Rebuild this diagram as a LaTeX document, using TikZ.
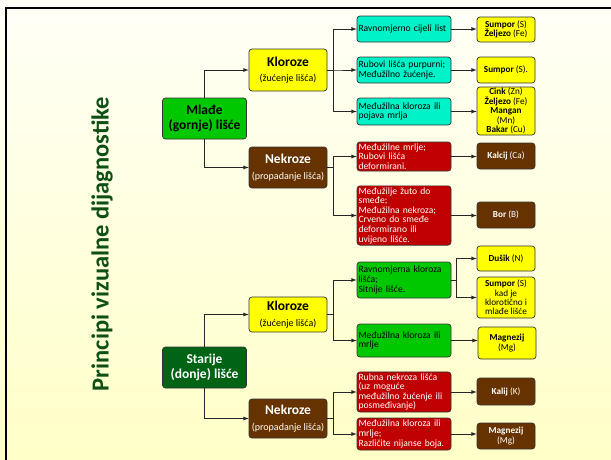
\documentclass[tikz,border=0pt]{standalone}
\usepackage{fontspec}
\setmainfont{Carlito}
\usepackage{tikz}
\usetikzlibrary{arrows}

\definecolor{ylwfill}{HTML}{FFFF00}
\definecolor{cynfill}{HTML}{00F2C8}
\definecolor{redfill}{HTML}{C00000}
\definecolor{brnfill}{HTML}{663300}
\definecolor{grnfill}{HTML}{00C800}
\definecolor{drkgrn}{HTML}{006414}
\definecolor{titlegrn}{HTML}{0E5014}

\tikzset{
  box/.style={draw=black!80, line width=0.7pt, rounded corners=3pt, inner sep=1.5pt, font=\fontsize{9.6}{9.6}\selectfont},
  leftbox/.style={box, align=left, text width=#1},
  ylw/.style={box, fill=ylwfill, align=center, font=\fontsize{9.2}{9.4}\selectfont},
  brn/.style={box, fill=brnfill, text=white, align=center, font=\fontsize{9.2}{9.6}\selectfont},
  cyn/.style={leftbox=91pt, fill=cynfill},
  redb/.style={leftbox=91pt, fill=redfill, text=white},
  grnb/.style={leftbox=91pt, fill=grnfill},
  head/.style={box, align=center, font=\fontsize{13.5}{15.5}\selectfont\bfseries},
  arr/.style={-latex, draw=black!85, line width=0.8pt},
}
\newcommand{\subline}[1]{{\fontsize{10}{12}\mdseries#1}}

\begin{document}
\begin{tikzpicture}[x=1pt, y=-1pt]
				% Background and frame:
				\useasboundingbox (0, 0) rectangle (611, 459);
				\shade[top color=white!97!yellow, bottom color=yellow!22] (0, 0) rectangle (611, 459);
				\draw[line width=2.6pt, line cap=rect] (6, 459) -- (6, 8) -- (611, 8);
				% Title:
				\node[rotate=90, text=titlegrn, font=\fontsize{24.5}{28}\selectfont\bfseries](title) at (102, 244){Principi vizualne dijagnostike};
				% Mlade (gornje) lisce:
				\node[head, fill=grnfill, minimum width=84pt, minimum height=41pt](mlade) at (204.5, 118.5){Mlađe\\(gornje) lišće};
				\node[head, fill=ylwfill, minimum width=78pt, minimum height=42pt](klorA) at (288, 70){Kloroze\\\subline{(žućenje lišća)}};
				\node[head, fill=brnfill, text=white, minimum width=78pt, minimum height=41pt](nekrA) at (288, 167.5){Nekroze\\\subline{(propadanje lišća)}};
				\node[cyn, minimum height=26pt](listA) at (404, 29){Ravnomjerno cijeli list};
				\node[cyn, minimum height=26pt](listB) at (404, 70){Rubovi lišća purpurni;\\Međužilno žućenje.};
				\node[cyn, minimum height=27pt](listC) at (404, 111.5){Međužilna kloroza ili\\pojava mrlja};
				\node[ylw, minimum width=58pt, minimum height=25pt](elemA) at (506, 29.5){\textbf{Sumpor} (S)\\\textbf{Željezo} (Fe)};
				\node[ylw, minimum width=58pt, minimum height=26pt](elemB) at (506, 70){\textbf{Sumpor} (S).};
				\node[ylw, minimum width=58pt, minimum height=48pt, inner sep=0.5pt](elemC) at (506, 111){\textbf{Cink} (Zn)\\\textbf{Željezo} (Fe)\\\textbf{Mangan}\\(Mn)\\\textbf{Bakar} (Cu)};
				\node[redb, minimum height=29pt](listD) at (404, 156.5){Međužilne mrlje;\\Rubovi lišća\\deformirani.};
				\node[redb, minimum height=59pt](listE) at (404, 215.5){Međužilje žuto do\\smeđe;\\Međužilna nekroza;\\Crveno do smeđe\\deformirano ili\\uvijeno lišće.};
				\node[brn, minimum width=58pt, minimum height=26pt](elemD) at (506, 156){\textbf{Kalcij} (Ca)};
				\node[brn, minimum width=58pt, minimum height=26pt](elemE) at (506, 215){\textbf{Bor} (B)};
				% Starije (donje) lisce:
				\node[head, fill=drkgrn, text=white, minimum width=84pt, minimum height=41pt](starije) at (204.5, 367.5){Starije\\(donje) lišće};
				\node[head, fill=ylwfill, minimum width=78pt, minimum height=35pt](klorB) at (288, 314.5){Kloroze\\\subline{(žućenje lišća)}};
				\node[head, fill=brnfill, text=white, minimum width=78pt, minimum height=39pt](nekrB) at (288, 418.5){Nekroze\\\subline{(propadanje lišća)}};
				\node[grnb, minimum height=36pt](listF) at (404, 280){Ravnomjerna kloroza\\lišća;\\Sitnije lišće.};
				\node[grnb, minimum height=33pt](listG) at (404, 340.5){Međužilna kloroza ili\\mrlje};
				\node[ylw, minimum width=58pt, minimum height=25pt](elemF) at (506, 258.5){\textbf{Dušik} (N)};
				\node[ylw, minimum width=58pt, minimum height=41pt, inner sep=0.5pt](elemG) at (506, 297.5){\textbf{Sumpor} (S)\\kad je\\klorotično i\\mlađe lišće};
				\node[ylw, minimum width=58pt, minimum height=32pt](elemH) at (507, 343){\textbf{Magnezij}\\(Mg)};
				\node[redb, minimum height=40pt](listH) at (404, 392){Rubna nekroza lišća\\(uz moguće\\međužilno žućenje ili\\posmeđivanje)};
				\node[redb, minimum height=32pt](listI) at (404, 434){Međužilna kloroza ili\\mrlje;\\Različite nijanse boja.};
				\node[brn, minimum width=58pt, minimum height=27pt](elemI) at (506, 391.5){\textbf{Kalij} (K)};
				\node[brn, minimum width=58pt, minimum height=26pt](elemJ) at (506, 436){\textbf{Magnezij}\\(Mg)};
				% Connectors:
				\draw[arr] (mlade.north) |- (klorA.west);
				\draw[arr] (mlade.south) |- (nekrA.west);
				\draw[arr] (klorA.east) -- ++(6, 0) |- (listA.west);
				\draw[arr] (klorA.east) -- ++(6, 0) |- (listB.west);
				\draw[arr] (klorA.east) -- ++(6, 0) |- (listC.west);
				\draw[arr] (listA.east) -- (elemA.west |- listA.east);
				\draw[arr] (listB.east) -- (elemB.west |- listB.east);
				\draw[arr] (listC.east) -- (elemC.west |- listC.east);
				\draw[arr] (nekrA.east) -- ++(6, 0) |- (listD.west);
				\draw[arr] (nekrA.east) -- ++(6, 0) |- (listE.west);
				\draw[arr] (listD.east) -- (elemD.west |- listD.east);
				\draw[arr] (listE.east) -- (elemE.west |- listE.east);
				\draw[arr] (starije.north) |- (klorB.west);
				\draw[arr] (starije.south) |- (nekrB.west);
				\draw[arr] (klorB.east) -- ++(6, 0) |- (listF.west);
				\draw[arr] (klorB.east) -- ++(6, 0) |- (listG.west);
				\draw[arr] (listF.east) -- ++(5, 0) |- (elemF.west);
				\draw[arr] (listF.east) -- ++(5, 0) |- (elemG.west);
				\draw[arr] (listG.east) -- (elemH.west |- listG.east);
				\draw[arr] (nekrB.east) -- ++(6, 0) |- (listH.west);
				\draw[arr] (nekrB.east) -- ++(6, 0) |- (listI.west);
				\draw[arr] (listH.east) -- (elemI.west |- listH.east);
				\draw[arr] (listI.east) -- (elemJ.west |- listI.east);
			\end{tikzpicture}
\end{document}
